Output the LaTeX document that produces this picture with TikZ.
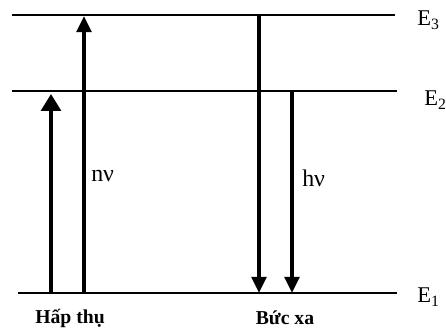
\documentclass[tikz,border=0pt]{standalone}
\usepackage{fontspec}
\setmainfont{Liberation Serif}
\usetikzlibrary{arrows.meta,positioning}

\begin{document}
\begin{tikzpicture}[
                    x=0.025cm, y=-0.025cm,
                    level/.style={line width=1.6pt},
                    jump/.style={line width=2.5pt, -{Triangle[length=11.5pt, width=10.5pt]}},
                    bigjump/.style={line width=2.5pt, -{Triangle[length=12pt, width=14pt]}},
                    elabel/.style={anchor=west, inner sep=0pt, font=\fontsize{16}{18}\selectfont},
                    photon/.style={anchor=west, inner sep=0pt, font=\fontsize{17}{19}\selectfont},
                    caption/.style={inner sep=0pt, font=\bfseries\fontsize{14}{16}\selectfont}
                ]
                    \useasboundingbox (0,0) rectangle (446,332);
                    % energy levels
                    \coordinate (e3l) at (12,15);  \coordinate (e3r) at (395,15);
                    \coordinate (e2l) at (12,91);  \coordinate (e2r) at (397,91);
                    \coordinate (e1l) at (18,293); \coordinate (e1r) at (397,293);
                    \draw[level] (e3l) -- (e3r);
                    \draw[level] (e2l) -- (e2r);
                    \draw[level] (e1l) -- (e1r);
                    \node[elabel] (E3) at (417,20) {E\textsubscript{3}};
                    \node[elabel] (E2) at (424,100) {E\textsubscript{2}};
                    \node[elabel] (E1) at (417,297) {E\textsubscript{1}};

                    % absorption
                    \coordinate (a1s) at (51,293);  \coordinate (a1e) at (51,94);
                    \coordinate (a2s) at (84,293);  \coordinate (a2e) at (84,16);
                    \draw[bigjump] (a1s) -- (a1e);
                    \draw[jump] (a2s) -- (a2e);
                    \node[photon] (nnu) at (91,176) {nν};

                    % emission
                    \coordinate (b1s) at (259,15);  \coordinate (b1e) at (259,293);
                    \coordinate (b2s) at (292,91);  \coordinate (b2e) at (292,293);
                    \draw[jump] (b1s) -- (b1e);
                    \draw[jump] (b2s) -- (b2e);
                    \node[photon] (hnu) at (302,178) {hν};

                    \node[caption] (hapthu) at (70,318) {Hấp thụ};
                    \node[caption] (bucxa) at (285,318) {Bức xa};
                \end{tikzpicture}
\end{document}
